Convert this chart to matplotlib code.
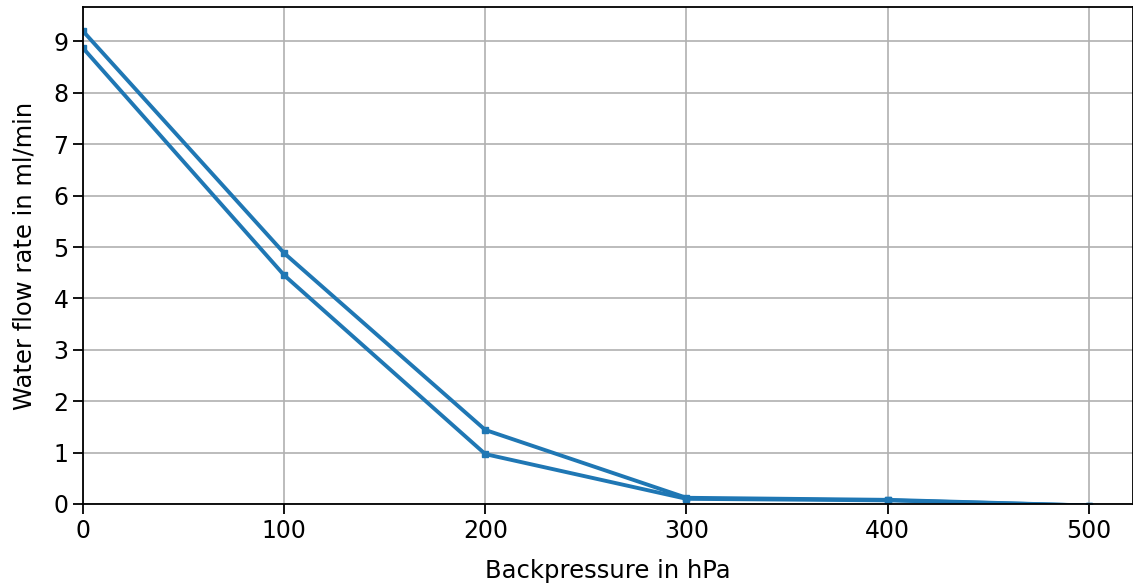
import matplotlib
matplotlib.use("Agg")
import matplotlib.pyplot as plt

backpressure = [0, 100, 200, 300, 400, 500]
flow_run1 = [9.2, 4.88, 1.44, 0.12, 0.08, -0.03]
flow_run2 = [8.87, 4.45, 0.97, 0.10, 0.07, -0.03]

fig = plt.figure(figsize=(11.33, 5.86), dpi=100)
ax = fig.add_axes([0.0733, 0.14, 0.9267, 0.848])
for y in (flow_run1, flow_run2):
    ax.plot(backpressure, y, color="#1f77b4", lw=2.8, marker="s", ms=4, zorder=2)
ax.set_xlim(0, 522)
ax.set_ylim(0, 9.67)
ax.set_xticks([0, 100, 200, 300, 400, 500])
ax.set_yticks(range(10))
ax.grid(True, color="#b0b0b0", lw=1.2)
ax.set_axisbelow(True)
ax.tick_params(labelsize=17, length=7, width=1.3)
for s in ax.spines.values():
    s.set_linewidth(1.3)
    s.set_zorder(3)
ax.set_xlabel("Backpressure in hPa", fontsize=17.5, labelpad=12)
ax.set_ylabel("Water flow rate in ml/min", fontsize=17.5, labelpad=12)
fig.savefig("out.png", dpi=100)
